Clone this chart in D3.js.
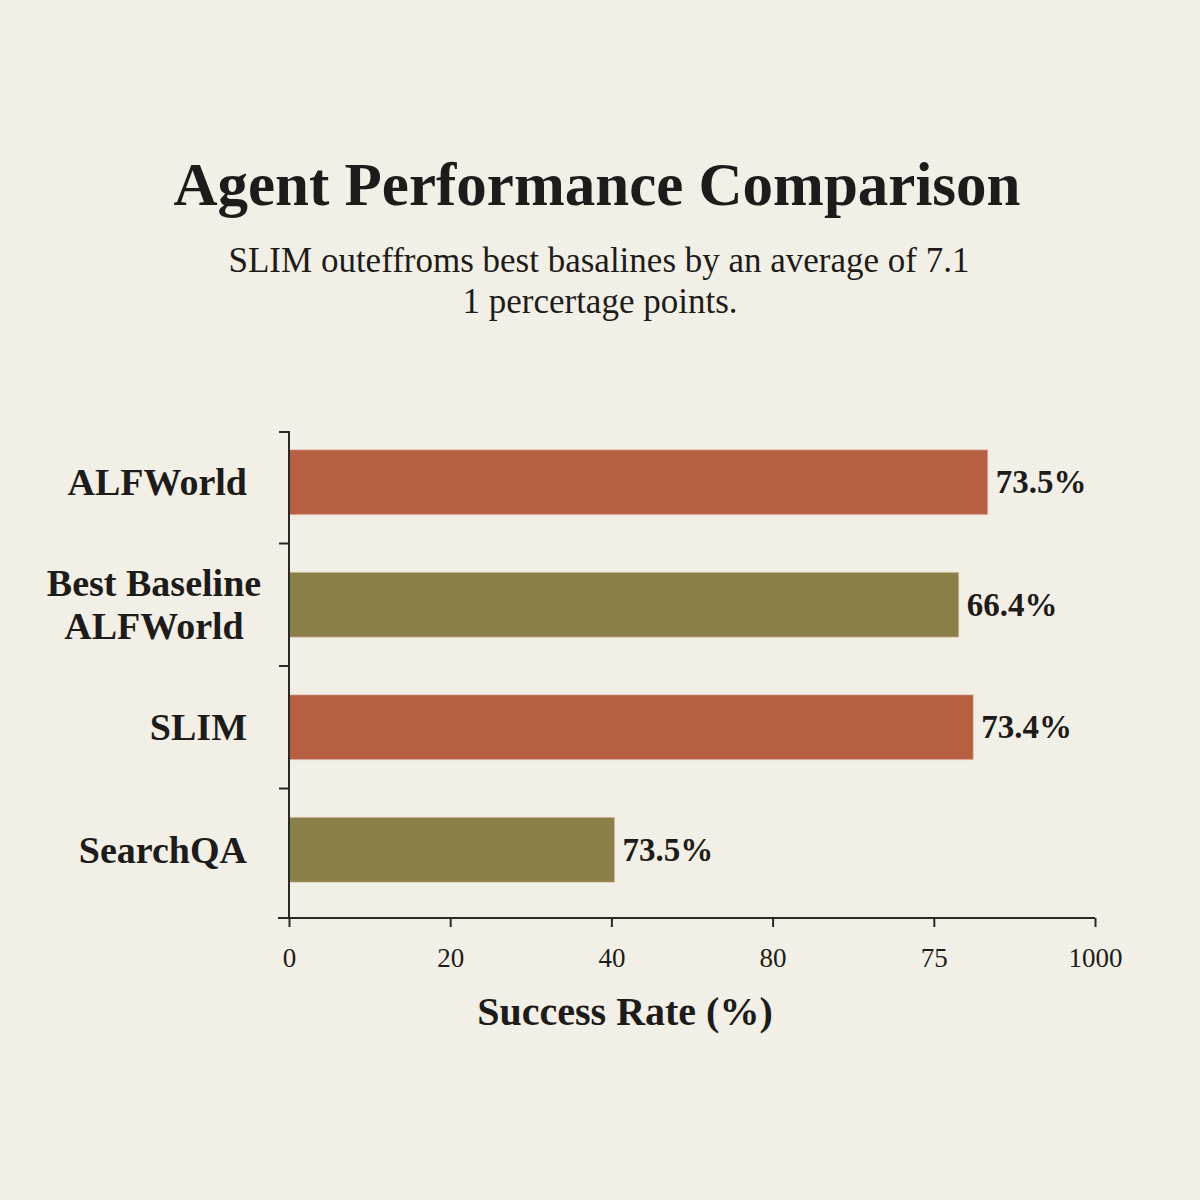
<!DOCTYPE html>
<html>
<head>
<meta charset="utf-8">
<script src="https://cdn.jsdelivr.net/npm/d3@7"></script>
<style>
  html, body { margin: 0; padding: 0; background: #f2efe6; }
  svg { display: block; }
  text { font-family: "Liberation Serif", "DejaVu Serif", serif; fill: #1e1c1a; }
</style>
</head>
<body>
<script>
var width = 1200;
var height = 1200;
var margin = { top: 421, right: 105, bottom: 282, left: 289 };
var w = width - margin.left - margin.right;
var h = height - margin.top - margin.bottom;

// data
var categories = ["ALFWorld", "Best Baseline|ALFWorld", "SLIM", "SearchQA"];
var barValues = [86.7, 83.1, 84.9, 40.4];
var valueLabels = ["73.5%", "66.4%", "73.4%", "73.5%"];
var barKinds = ["slim", "base", "slim", "base"];
var tickValues = [0, 20, 40, 60, 80, 100];
var tickLabels = ["0", "20", "40", "80", "75", "1000"];

var col = { slim: "#b75f42", base: "#8a7e49" };

var svg = d3.select("body").append("svg")
    .attr("width", width)
    .attr("height", height);

svg.append("rect")
    .attr("width", width)
    .attr("height", height)
    .attr("fill", "#f2efe6");

// title + subtitle
svg.append("text")
    .attr("x", 597)
    .attr("y", 205)
    .attr("text-anchor", "middle")
    .style("font-size", "61px")
    .style("font-weight", "bold")
    .text("Agent Performance Comparison");

svg.append("text")
    .attr("x", 599)
    .attr("y", 272)
    .attr("text-anchor", "middle")
    .style("font-size", "35px")
    .text("SLIM outeffroms best basalines by an average of 7.1");

svg.append("text")
    .attr("x", 600)
    .attr("y", 313)
    .attr("text-anchor", "middle")
    .style("font-size", "35px")
    .text("1 percertage points.");

var chart = svg.append("g")
    .attr("transform", "translate(" + margin.left + "," + margin.top + ")");

var x = d3.scaleLinear()
    .domain([0, 100])
    .range([0, w]);

var y = d3.scaleBand()
    .domain(categories)
    .range([0, 490])
    .paddingInner(0.47)
    .paddingOuter(0.235);

// bars
chart.selectAll("rect.bar")
    .data(categories)
    .enter().append("rect")
    .attr("class", "bar")
    .attr("x", 0)
    .attr("y", function (d) { return y(d); })
    .attr("width", function (d, i) { return x(barValues[i]); })
    .attr("height", y.bandwidth())
    .attr("fill", function (d, i) { return col[barKinds[i]]; })
    .attr("stroke", "#e6cdb8")
    .attr("stroke-opacity", 0.6)
    .attr("stroke-width", 1);

// value labels
chart.selectAll("text.val")
    .data(categories)
    .enter().append("text")
    .attr("class", "val")
    .attr("x", function (d, i) { return x(barValues[i]) + 8; })
    .attr("y", function (d) { return y(d) + y.bandwidth() / 2 + 11; })
    .style("font-size", "33px")
    .style("font-weight", "bold")
    .text(function (d, i) { return valueLabels[i]; });

// category labels
chart.selectAll("text.cat")
    .data(categories)
    .enter().append("text")
    .attr("class", "cat")
    .style("font-size", "38px")
    .style("font-weight", "bold")
    .each(function (d) {
        var lines = d.split("|");
        var t = d3.select(this);
        var cy = y(d) + y.bandwidth() / 2;
        if (lines.length > 1) {
            t.attr("text-anchor", "middle");
            lines.forEach(function (l, j) {
                t.append("tspan")
                    .attr("x", -135)
                    .attr("y", cy - 9 + j * 43)
                    .text(l);
            });
        } else {
            t.attr("text-anchor", "end")
                .attr("x", -42)
                .attr("y", cy + 13)
                .text(d);
        }
    });

// x axis
var xAxis = d3.axisBottom()
    .scale(x)
    .tickValues(tickValues)
    .tickSize(9)
    .tickSizeOuter(0)
    .tickFormat(function (d, i) { return tickLabels[i]; });

var gx = chart.append("g")
    .attr("class", "axis")
    .attr("transform", "translate(0," + h + ")")
    .call(xAxis);

gx.select(".domain")
    .attr("d", "M-11,0H" + w)
    .attr("stroke", "#2a2825")
    .attr("stroke-width", 2);
gx.selectAll(".tick line")
    .attr("stroke", "#2a2825")
    .attr("stroke-width", 2);
gx.selectAll(".tick text")
    .attr("dy", 0)
    .attr("y", 49)
    .style("font-size", "27px")
    .style("font-family", "Liberation Serif, serif")
    .attr("fill", "#2a2825");

chart.append("text")
    .attr("x", 336)
    .attr("y", h + 107)
    .attr("text-anchor", "middle")
    .style("font-size", "40px")
    .style("font-weight", "bold")
    .text("Success Rate (%)");

// y axis: line plus ticks between bands
chart.append("line")
    .attr("x1", 0).attr("x2", 0)
    .attr("y1", 10).attr("y2", h)
    .attr("stroke", "#2a2825")
    .attr("stroke-width", 2);

chart.selectAll("line.ytick")
    .data(categories)
    .enter().append("line")
    .attr("class", "ytick")
    .attr("x1", -10).attr("x2", 0)
    .attr("y1", function (d, i) { return i === 0 ? 11 : y(d) - y.step() * y.paddingInner() / 2; })
    .attr("y2", function (d, i) { return i === 0 ? 11 : y(d) - y.step() * y.paddingInner() / 2; })
    .attr("stroke", "#2a2825")
    .attr("stroke-width", 2);
</script>
</body>
</html>
